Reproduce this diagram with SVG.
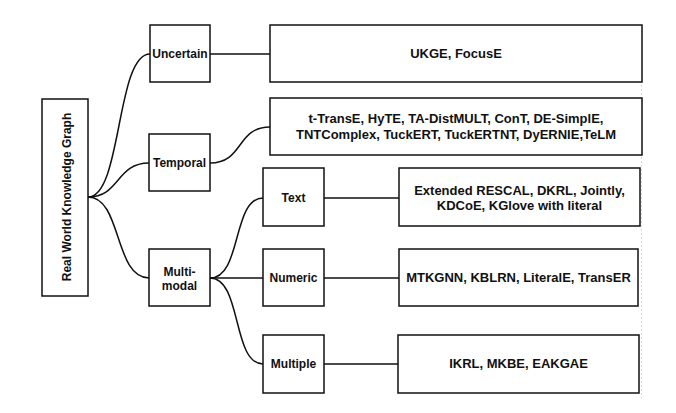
<svg xmlns="http://www.w3.org/2000/svg" width="676" height="413" viewBox="0 0 676 413">
<style>
.box{fill:#fff;stroke:#111;stroke-width:1.5}
.lbl{font-family:"Liberation Sans",Arial,sans-serif;font-weight:bold;font-size:12px;fill:#111;text-anchor:middle}
.big{font-size:13px}
.edge{fill:none;stroke:#111;stroke-width:1.5}
</style>
<rect width="676" height="413" fill="#fff"/>
<line x1="641.5" y1="25" x2="641.5" y2="398" stroke="#d8d8d8" stroke-width="1" stroke-dasharray="2,2"/>
<g id="connectors">
<path class="edge" d="M88,197 C122,197 116,54 150,54"/>
<path class="edge" d="M88,197 C120,197 116,163 149,163"/>
<path class="edge" d="M88,197 C122,197 114,278 149,278"/>
<path class="edge" d="M210,54 L270,54"/>
<path class="edge" d="M210,163 C244,163 236,127 270,127"/>
<path class="edge" d="M210,278 C242,278 232,198 263,198"/>
<path class="edge" d="M210,278 L263,278"/>
<path class="edge" d="M210,278 C242,278 232,364 263,364"/>
<path class="edge" d="M324,198 L399,198"/>
<path class="edge" d="M324,278 L399,278"/>
<path class="edge" d="M324,364 L398,364"/>
</g>
<g id="root"><rect class="box" x="42" y="99" width="46" height="197"/><text class="lbl" transform="translate(71,197) rotate(-90)">Real World Knowledge Graph</text></g>
<g id="uncertain"><rect class="box" x="150" y="25" width="60" height="57"/><text class="lbl" x="180" y="58">Uncertain</text></g>
<g id="temporal"><rect class="box" x="149" y="134" width="61" height="57"/><text class="lbl" x="179.5" y="167">Temporal</text></g>
<g id="multimodal"><rect class="box" x="149" y="249" width="61" height="57"/><text class="lbl" x="179.5" y="276">Multi-</text><text class="lbl" x="179.5" y="290">modal</text></g>
<g id="text"><rect class="box" x="263" y="168" width="61" height="58"/><text class="lbl" x="293.5" y="202">Text</text></g>
<g id="numeric"><rect class="box" x="263" y="249" width="61" height="57"/><text class="lbl" x="293.5" y="282">Numeric</text></g>
<g id="multiple"><rect class="box" x="263" y="335" width="61" height="58"/><text class="lbl" x="293.5" y="368">Multiple</text></g>
<g id="uncertain-list"><rect class="box" x="270" y="25" width="372" height="57"/><text class="lbl big" x="456" y="58">UKGE, FocusE</text></g>
<g id="temporal-list"><rect class="box" x="270" y="98" width="372" height="57"/><text class="lbl big" x="456" y="123">t-TransE, HyTE, TA-DistMULT, ConT, DE-SimplE,</text><text class="lbl big" x="456" y="139">TNTComplex, TuckERT, TuckERTNT, DyERNIE,TeLM</text></g>
<g id="text-list"><rect class="box" x="399" y="168" width="241" height="58"/><text class="lbl big" x="519.5" y="195">Extended RESCAL, DKRL, Jointly,</text><text class="lbl big" x="519.5" y="210">KDCoE, KGlove with literal</text></g>
<g id="numeric-list"><rect class="box" x="399" y="249" width="239" height="57"/><text class="lbl big" x="518.5" y="282">MTKGNN, KBLRN, LiteralE, TransER</text></g>
<g id="multiple-list"><rect class="box" x="398" y="335" width="241" height="58"/><text class="lbl big" x="518.5" y="368">IKRL, MKBE, EAKGAE</text></g>
</svg>
